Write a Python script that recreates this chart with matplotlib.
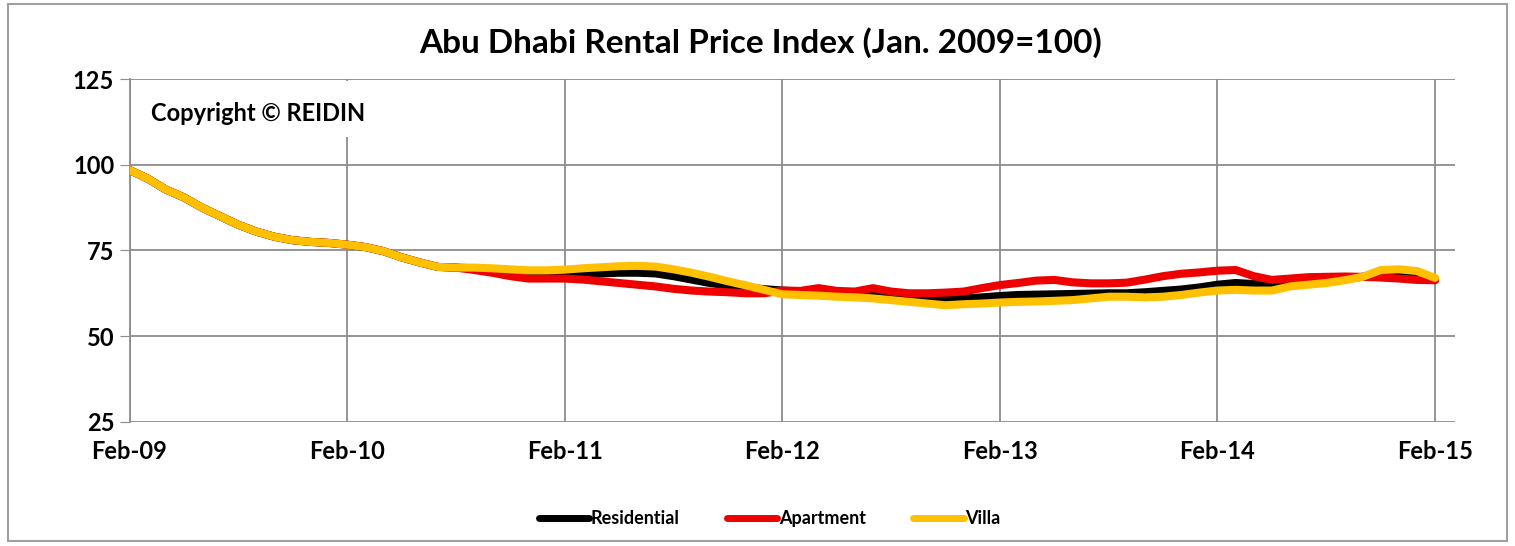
import numpy as np
import matplotlib
matplotlib.use("Agg")
import matplotlib.pyplot as plt
from matplotlib.patches import Rectangle

# monthly index values, Feb-09 .. Feb-15
residential = [98.5, 96.0, 92.8, 90.5, 87.5, 85.0, 82.5, 80.5, 79.0, 78.0, 77.5, 77.2,
               76.7, 76.0, 74.8, 73.0, 71.5, 70.2, 70.0, 69.8, 69.3, 68.8, 68.3, 68.0,
               67.8, 68.0, 68.3, 68.5, 68.5, 68.3, 67.5, 66.5, 65.5, 64.8, 64.2, 63.7,
               63.3, 63.0, 62.7, 62.4, 62.2, 62.0, 61.7, 61.4, 61.0, 60.8, 61.0, 61.3,
               61.7, 62.0, 62.1, 62.2, 62.3, 62.4, 62.5, 62.5, 62.8, 63.2, 63.6, 64.2,
               65.0, 65.5, 65.2, 64.8, 65.3, 65.8, 66.3, 66.7, 67.3, 68.3, 68.0, 67.5,
               66.5]
apartment = [98.5, 96.0, 92.8, 90.5, 87.5, 85.0, 82.5, 80.5, 79.0, 78.0, 77.5, 77.2,
             76.7, 76.0, 74.8, 73.0, 71.5, 70.2, 70.0, 69.3, 68.5, 67.5, 66.8, 66.8,
             66.8, 66.5, 66.0, 65.5, 65.0, 64.5, 63.8, 63.3, 63.0, 62.8, 62.5, 62.5,
             63.3, 63.2, 64.0, 63.2, 63.0, 64.0, 63.0, 62.5, 62.5, 62.7, 63.0, 64.0,
             64.9, 65.5, 66.2, 66.4, 65.7, 65.4, 65.4, 65.6, 66.5, 67.5, 68.2, 68.6,
             69.1, 69.3, 67.5, 66.4, 66.8, 67.2, 67.3, 67.4, 67.3, 67.1, 66.8, 66.4,
             66.3]
villa = [98.5, 96.0, 92.8, 90.5, 87.5, 85.0, 82.5, 80.5, 79.0, 78.0, 77.5, 77.2,
         76.7, 76.0, 74.8, 73.0, 71.5, 70.2, 70.0, 70.0, 69.8, 69.5, 69.2, 69.2,
         69.4, 69.8, 70.1, 70.4, 70.5, 70.3, 69.5, 68.5, 67.3, 66.0, 64.8, 63.5,
         62.2, 62.0, 61.8, 61.5, 61.3, 61.0, 60.5, 60.0, 59.5, 59.0, 59.3, 59.5,
         59.8, 60.0, 60.1, 60.3, 60.5, 61.0, 61.5, 61.5, 61.3, 61.5, 62.0, 62.7,
         63.3, 63.5, 63.3, 63.3, 64.5, 65.0, 65.5, 66.3, 67.3, 69.3, 69.5, 69.0,
         67.0]
tick_labels = ["Feb-09", "Feb-10", "Feb-11", "Feb-12", "Feb-13", "Feb-14", "Feb-15"]

FONT = "Lato"
months = np.arange(len(residential))

fig = plt.figure(figsize=(15.15, 5.46), dpi=100)
ax = fig.add_axes([0.0855, 0.2277, 0.8749, 0.6271])

ax.plot(months, residential, color="black", lw=5.8, label="Residential", zorder=3,
        solid_capstyle="round")
ax.plot(months, apartment, color="#ee0000", lw=5.8, label="Apartment", zorder=4,
        solid_capstyle="round")
ax.plot(months, villa, color="#ffc000", lw=5.8, label="Villa", zorder=5,
        solid_capstyle="round")

ax.set_xlim(0, 73.1)
ax.set_ylim(25, 125)
ax.set_yticks([25, 50, 75, 100, 125])
ax.set_xticks(np.arange(0, 73, 12))
ax.set_xticklabels(tick_labels)
ax.grid(True, color="#8c8c8c", lw=1.3)
ax.set_axisbelow(True)
for s in ["top", "right", "bottom"]:
    ax.spines[s].set_visible(False)
ax.spines["left"].set_color("#8c8c8c")
ax.spines["left"].set_linewidth(1.3)
ax.tick_params(axis="y", length=7, color="#8c8c8c", pad=4)
ax.tick_params(axis="x", length=0, pad=13)
for lab in ax.get_xticklabels() + ax.get_yticklabels():
    lab.set_fontfamily(FONT)
    lab.set_fontweight("bold")
    lab.set_fontsize(17)

# white box behind the copyright note hides the gridline
ax.add_patch(Rectangle((0.3, 108.2), 12.5, 16.4, facecolor="white", edgecolor="none",
                       zorder=1))
ax.text(1.2, 115.0, "Copyright \u00a9 REIDIN", fontfamily=FONT, fontweight="bold",
        fontsize=17, va="center", ha="left", zorder=2)

fig.text(0.502, 0.922, "Abu Dhabi Rental Price Index (Jan. 2009=100)", fontfamily=FONT,
         fontweight="bold", fontsize=24, ha="center", va="center")

leg = fig.legend(loc="center", bbox_to_anchor=(0.508, 0.05), ncol=3, frameon=False,
                 prop={"family": FONT, "weight": "bold", "size": 13}, handlelength=2.8,
                 handletextpad=0.1, columnspacing=2.6)
for h in leg.legend_handles:
    h.set_linewidth(5)

fig.patches.append(Rectangle((0.005, 0.01), 0.99, 0.982, transform=fig.transFigure,
                             fill=False, edgecolor="#a0a0a0", lw=1.5))

fig.savefig("out.png", dpi=100)
